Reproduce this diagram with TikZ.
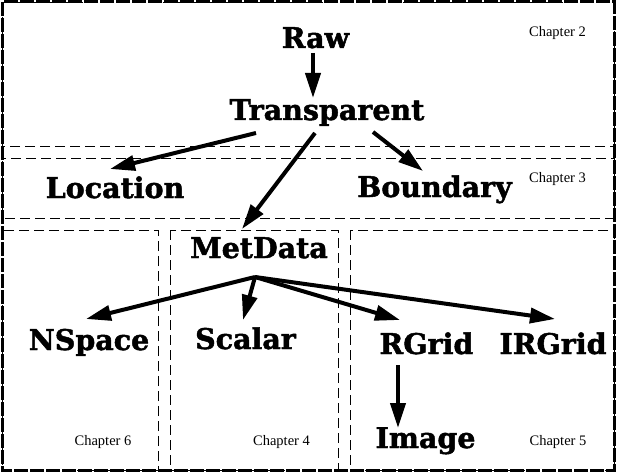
\documentclass[tikz,border=0pt]{standalone}
\usepackage{fontspec}
\newfontfamily\lblfont{DejaVu Serif}[BoldFeatures={FakeBold=1.6}]
\newfontfamily\chfont{Liberation Serif}
\usetikzlibrary{arrows.meta}
\begin{document}
\begin{tikzpicture}[x=1pt,y=-1pt,
  lbl/.style={font=\lblfont\bfseries\fontsize{28.5}{30}\selectfont, anchor=base, inner sep=0pt},
  chap/.style={font=\chfont\fontsize{14.5}{16}\selectfont, anchor=base, inner sep=0pt},
  arr/.style={line width=4pt, -{Triangle[length=25pt,width=15pt]}},
  chbox/.style={draw, line width=0.8pt, dash pattern=on 10pt off 5pt},
  outerbox/.style={draw, line width=3pt, dash pattern=on 14pt off 2pt}]
\fill[white] (0,0) rectangle (617,473);
\useasboundingbox (0,0) rectangle (617,473);
% chapter boxes
\draw[chbox] (2,2) rectangle (614,158);
\draw[chbox] (2,146) rectangle (614,218);
\draw[chbox] (2,230) rectangle (158,470);
\draw[chbox] (170,230) rectangle (338,470);
\draw[chbox] (350,230) rectangle (614,470);
\draw[outerbox] (2,2) rectangle (614,470);
% chapter labels
\node[chap] (ch2) at (557.5,37) {Chapter 2};
\node[chap] (ch3) at (557.5,182) {Chapter 3};
\node[chap] (ch6) at (103,445) {Chapter 6};
\node[chap] (ch4) at (281.5,445) {Chapter 4};
\node[chap] (ch5) at (558,445) {Chapter 5};
% class nodes
\node[lbl] (raw) at (315.5,48) {Raw};
\node[lbl] (transp) at (327,120) {Transparent};
\node[lbl] (loc) at (115,198) {Location};
\node[lbl] (bound) at (434.5,197) {Boundary};
\node[lbl] (met) at (259,258) {MetData};
\node[lbl] (nsp) at (89,350) {NSpace};
\node[lbl] (scal) at (245.5,349) {Scalar};
\node[lbl] (rgrid) at (426.5,354) {RGrid};
\node[lbl] (irgrid) at (553,354) {IRGrid};
\node[lbl] (image) at (425.5,448) {Image};
\coordinate (mdsrc) at ([shift={(-4,19)}]met.base);
% arrows
\draw[arr] ([shift={(-2.5,5)}]raw.base) -- ([shift={(-14,-22)}]transp.base);
\draw[arr] ([shift={(-71,13)}]transp.base) -- ([shift={(-5,-29)}]loc.base);
\draw[arr] ([shift={(-12,13)}]transp.base) -- ([shift={(-17,-29)}]met.base);
\draw[arr] ([shift={(46,12)}]transp.base) -- ([shift={(-11.5,-26)}]bound.base);
\draw[arr] (mdsrc) -- ([shift={(-3,-31)}]nsp.base);
\draw[arr] (mdsrc) -- ([shift={(-2.5,-29)}]scal.base);
\draw[arr] (mdsrc) -- ([shift={(-26.5,-34)}]rgrid.base);
\draw[arr] (mdsrc) -- ([shift={(2,-35)}]irgrid.base);
\draw[arr] ([shift={(-28.5,11)}]rgrid.base) -- ([shift={(-27.5,-20)}]image.base);
\end{tikzpicture}
\end{document}
